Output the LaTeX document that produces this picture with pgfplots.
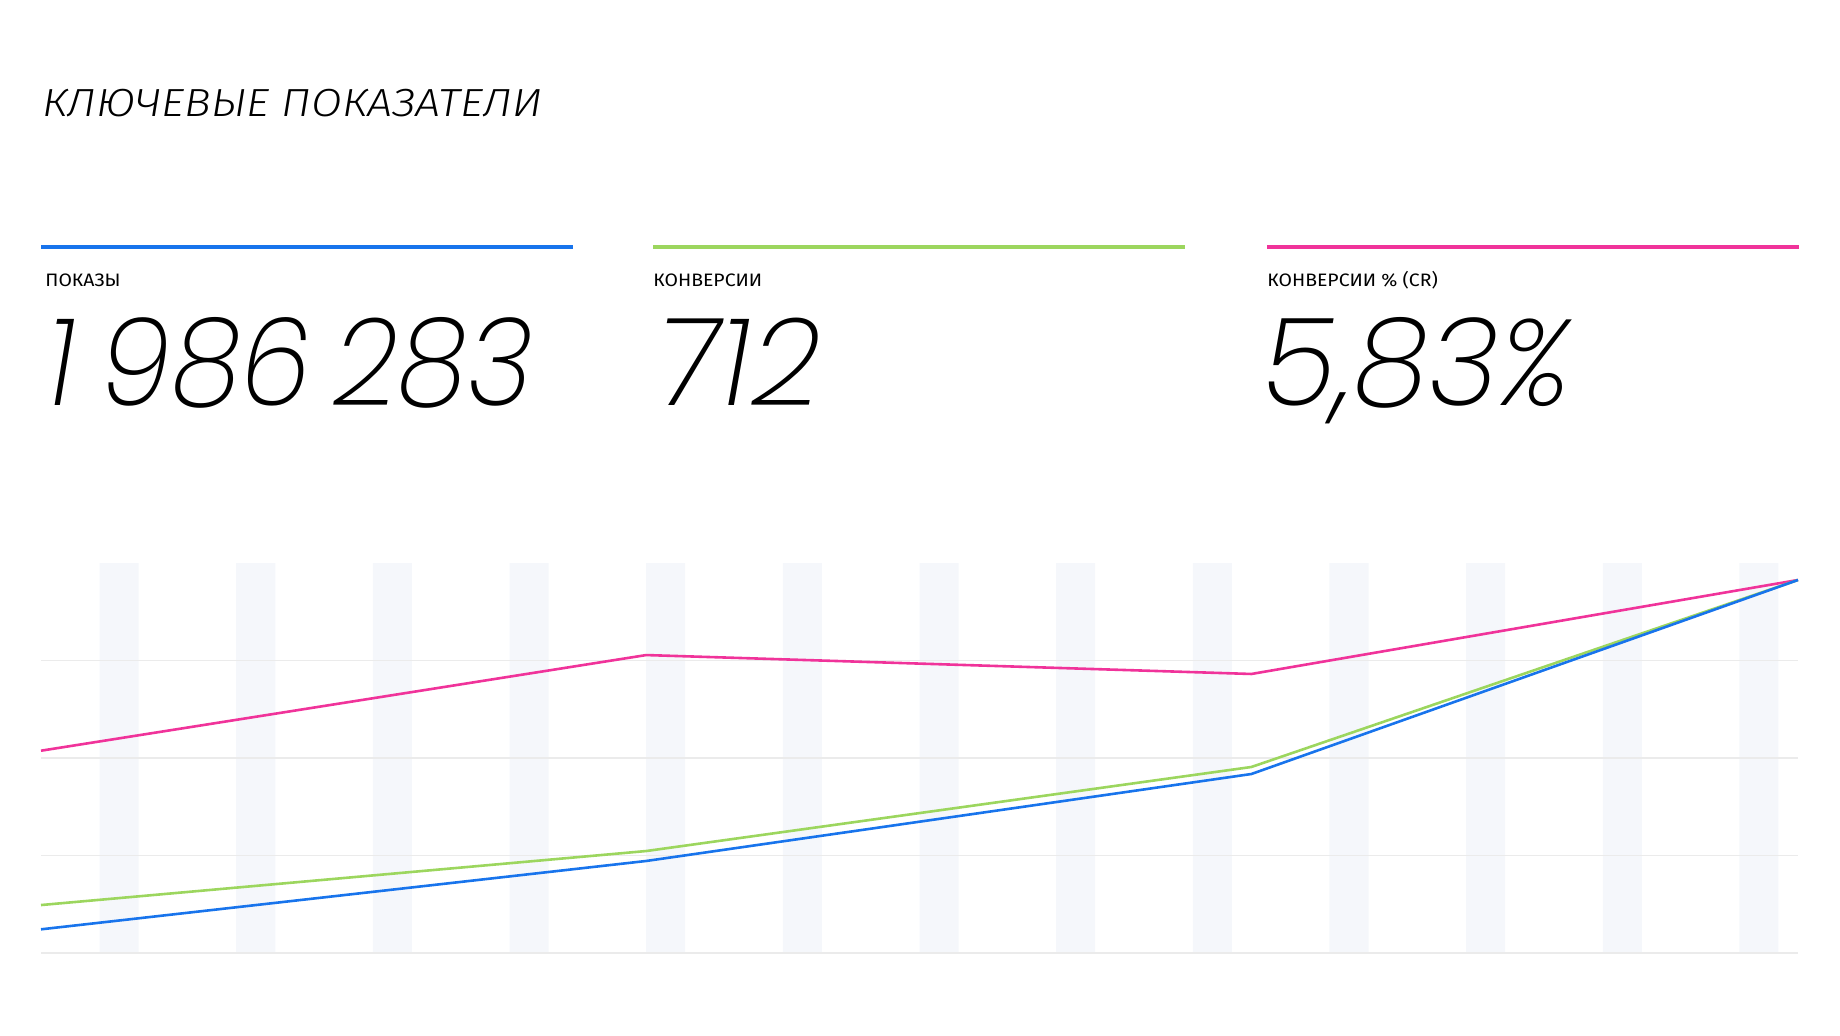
\documentclass[border=0pt]{standalone}
\usepackage{fontspec}
\usepackage{graphicx}
\usepackage{pgfplots}
\pgfplotsset{compat=1.18}
\setmainfont{Fira Sans}
\newfontfamily\titlefont{Fira Sans Light Italic}
\newfontfamily\numfont{Poppins ExtraLight Italic}

\definecolor{cblue}{HTML}{1874EC}
\definecolor{cgreen}{HTML}{9CD65E}
\definecolor{cpink}{HTML}{F0339A}
\definecolor{stripe}{HTML}{F5F7FB}
\definecolor{gridc}{HTML}{EBEBEB}

% days from the first point; values normalised per series (last point = max)
\pgfplotstableread{
day blue  green pink
0   0.243 0.492 2.075
31  0.944 1.046 3.056
62  1.836 1.908 2.862
90  3.826 3.826 3.826
}\kpidata

% weekend stripes (Sat-Sun), two days wide every seven days
\pgfplotstableread{
day h
0  0
3  4
5  0
10 4
12 0
17 4
19 0
24 4
26 0
31 4
33 0
38 4
40 0
45 4
47 0
52 4
54 0
59 4
61 0
66 4
68 0
73 4
75 0
80 4
82 0
87 4
89 0
90 0
}\stripes

\newcommand{\lbl}[1]{\fontsize{9}{10}\selectfont\scalebox{1.08}[1]{#1}}

\begin{document}
\begin{tikzpicture}
\useasboundingbox (0,0) rectangle (920pt,-517.5pt);

\begin{scope}[x=0.5pt, y=-0.5pt]
  \node[anchor=base west, inner sep=0] at (42,116)
    {\titlefont\fontsize{19.6}{22}\selectfont\scalebox{1.14}[1]{КЛЮЧЕВЫЕ ПОКАЗАТЕЛИ}};

  \fill[cblue]  (41,245) rectangle (573,249);
  \fill[cgreen] (653,245) rectangle (1185,249);
  \fill[cpink]  (1267,245) rectangle (1799,249);

  \node[anchor=base west, inner sep=0] at (45,286) {\lbl{ПОКАЗЫ}};
  \node[anchor=base west, inner sep=0] at (653,286) {\lbl{КОНВЕРСИИ}};
  \node[anchor=base west, inner sep=0] at (1267,286) {\lbl{КОНВЕРСИИ \% (CR)}};

  \node[anchor=base west, inner sep=0] at (46,405)
    {\numfont\fontsize{61}{70}\selectfont\scalebox{0.93}[1]{1\hspace{0.22em}986\hspace{0.19em}283}};
  \node[anchor=base west, inner sep=0] at (656,405)
    {\numfont\fontsize{61}{70}\selectfont 712};
  \node[anchor=base west, inner sep=0] at (1262,405)
    {\numfont\fontsize{61}{70}\selectfont 5,83\%};
\end{scope}

\begin{axis}[
  at={(20.5pt,-476.5pt)}, anchor=south west,
  width=878.5pt, height=195pt, scale only axis,
  xmin=0, xmax=90, ymin=0, ymax=4,
  hide axis,
  clip=false,
]
\addplot[const plot, fill=stripe, draw=none]
  table[x=day, y=h] {\stripes} \closedcycle;

% horizontal guides
\addplot[gridc, line width=0.8pt] coordinates {(0,0) (90,0)};
\addplot[gridc, line width=0.8pt] coordinates {(0,1) (90,1)};
\addplot[gridc, line width=0.8pt] coordinates {(0,2) (90,2)};
\addplot[gridc, line width=0.8pt] coordinates {(0,3) (90,3)};

\addplot[cpink,  line width=1.3pt, line join=round] table[x=day, y=pink]  {\kpidata};
\addplot[cgreen, line width=1.3pt, line join=round] table[x=day, y=green] {\kpidata};
\addplot[cblue,  line width=1.3pt, line join=round] table[x=day, y=blue]  {\kpidata};
\end{axis}
\end{tikzpicture}
\end{document}
